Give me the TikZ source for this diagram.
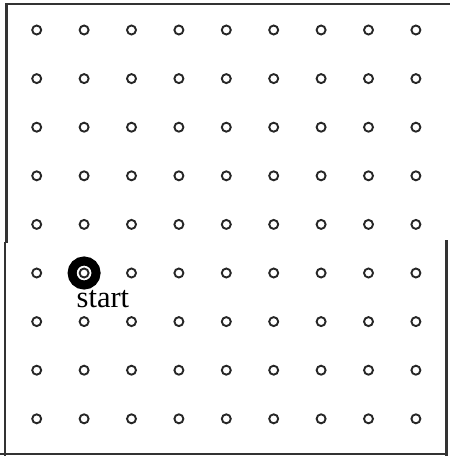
\documentclass[tikz,border=0pt]{standalone}
\usepackage{fontspec}
\setmainfont{Liberation Serif}
\begin{document}
\begin{tikzpicture}[x=1pt,y=-1pt,
  dot/.style={circle,draw=black!85,line width=1.9pt,minimum size=9pt,inner sep=0pt},
  frame/.style={line width=2.4pt,draw=black!80},
  ringmark/.style={circle,draw=black,line width=9pt,minimum size=24pt,inner sep=0pt},
  lbl/.style={font=\fontsize{30.5}{32}\selectfont,inner sep=0pt,anchor=base west}]
\useasboundingbox (0,0) rectangle (450,456);
% frame
\coordinate (tl1) at (6.5,243);
\coordinate (tl2) at (6.5,4);
\coordinate (tr) at (450,4);
\coordinate (bl1) at (5,242);
\coordinate (bl2) at (5,456);
\coordinate (b0) at (0,454);
\coordinate (b1) at (447,454);
\coordinate (r1) at (446.5,240);
\coordinate (r2) at (446.5,456);
\draw[frame] (tl1) -- (tl2) -- (tr);
\draw[frame] (bl1) -- (bl2);
\draw[frame] (b0) -- (b1);
\draw[frame] (r1) -- (r2);
% start marker
\node[ringmark] (ring) at ({36.7+47.4*1},{30+48.6*5}) {};
% grid of dots
\foreach \i in {0,...,8}{
  \foreach \j in {0,...,8}{
    \node[dot] (d-\i-\j) at ({36.7+47.4*\i},{30+48.6*\j}) {};
  }
}
\node[lbl] (start) at (76.5,307.5) {start};
\end{tikzpicture}
\end{document}
